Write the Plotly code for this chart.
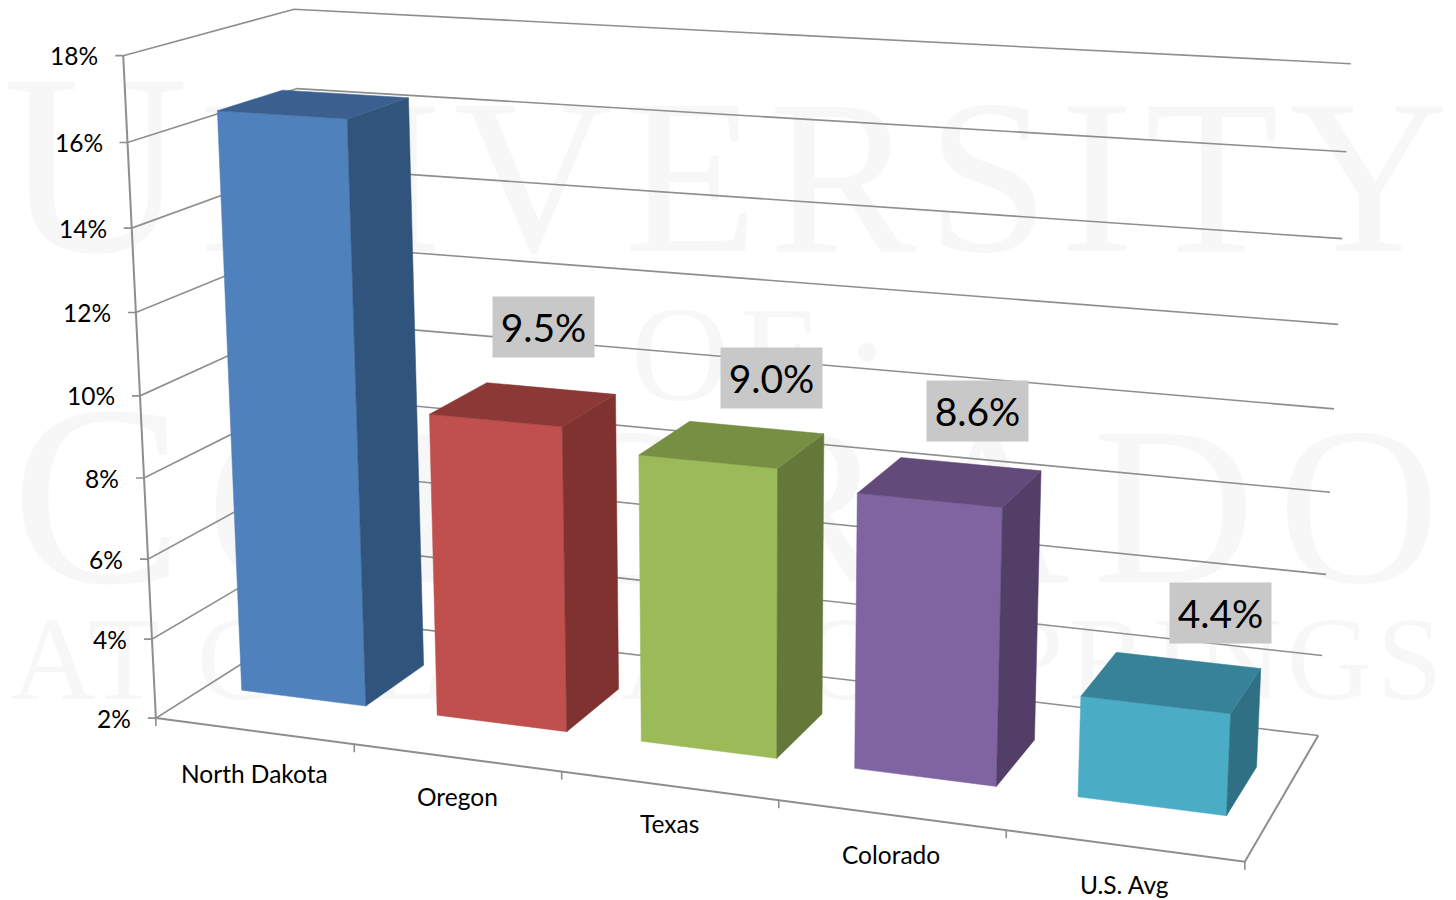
import numpy as np
import plotly.graph_objects as go

# ---- data ----
categories = ["North Dakota", "Oregon", "Texas", "Colorado", "U.S. Avg"]
values = [16.4, 9.5, 9.0, 8.6, 4.4]
value_ticks = [2, 4, 6, 8, 10, 12, 14, 16, 18]
tick_labels = ["2%", "4%", "6%", "8%", "10%", "12%", "14%", "16%", "18%"]
data_labels = ["", "9.5%", "9.0%", "8.6%", "4.4%"]

# ---- styles ----
front_colors = ["#4f81bd", "#c0504d", "#9bbb59", "#8064a2", "#4bacc6"]
side_colors = ["#31547c", "#7f3230", "#64783a", "#533e68", "#2f7085"]
top_colors = ["#3b6090", "#8c3836", "#778f43", "#624a7b", "#378299"]
GRID = "#8e8e8e"
FONT = "Lato"
WM = "#f7f7f7"

# ---- camera calibration: (across, value, depth) -> picture position of the frame ----
cal_world = []
cal_img = []
def add(u, v, d, x, y):
    cal_world.append((u, v, d)); cal_img.append((x, y))
for v, x, y in zip(value_ticks, [157, 152, 148, 144, 140, 136, 131, 127, 123],
                   [718, 638, 558, 478, 396, 312, 228, 142, 57]):
    add(0, v, 0, x, y)
for v, x, y in zip(value_ticks, [1318, 1322, 1326, 1330, 1334, 1338, 1343, 1347, 1350],
                   [735, 655, 575, 492, 408, 324, 239, 152, 64]):
    add(1, v, 1, x, y)
for u, x, y in zip([.2, .4, .6, .8, 1], [355, 561, 779, 1006, 1245], [745, 772, 801, 830, 862]):
    add(u, 2, 0, x, y)
add(0, 18, 1, 295, 9)
add(0, 2, 1, 315, 618)

A = []
for (u, v, d), (x, y) in zip(cal_world, cal_img):
    X = [u, (v - 2) / 16, d, 1]
    A.append(X + [0, 0, 0, 0] + [-x * c for c in X])
    A.append([0, 0, 0, 0] + X + [-y * c for c in X])
P = np.linalg.svd(np.array(A, float))[2][-1].reshape(3, 4)

def proj(u, v, d):
    h = P @ np.array([u, (v - 2) / 16, d, 1.0])
    return h[0] / h[2], h[1] / h[2]

def poly(points, color, name=None):
    xy = [proj(*p) for p in points]
    xy.append(xy[0])
    fig.add_trace(go.Scatter(x=[a for a, _ in xy], y=[b for _, b in xy], mode="lines",
                             fill="toself", fillcolor=color, line=dict(width=0.5, color=color),
                             hoverinfo="skip", showlegend=False))

def line(points, w=1.6):
    fig.add_trace(go.Scatter(x=[p[0] for p in points], y=[p[1] for p in points], mode="lines",
                             line=dict(color=GRID, width=w), hoverinfo="skip", showlegend=False))

fig = go.Figure()

# watermark, drawn first so that it stays behind everything
def caps(first, rest, big, small, spacing):
    return (f'<span style="font-size:{big}px;letter-spacing:{spacing}px">{first}</span>'
            f'<span style="font-size:{small}px;letter-spacing:{spacing}px">{rest}</span>')

wm_text = [caps("U", "NIVERSITY", 258, 220, 11),
           '<span style="letter-spacing:10px">OF</span>',
           caps("C", "OLORADO", 258, 224, 23),
           '<span style="letter-spacing:5px">AT COLORADO SPRINGS</span>']
wm_x = [731, 728, 737, 729]
wm_y = [196, 366, 526, 669]
wm_size = [220, 136, 224, 118]
for txt, x, y, size in zip(wm_text, wm_x, wm_y, wm_size):
    fig.add_trace(go.Scatter(x=[x], y=[y], mode="text", text=[txt], textposition="middle center",
                             textfont=dict(family="Liberation Serif", size=size, color=WM),
                             hoverinfo="skip", showlegend=False))
fig.add_trace(go.Scatter(x=[867], y=[352], mode="markers", marker=dict(size=19, color=WM),
                         hoverinfo="skip", showlegend=False))

# frame
for v in value_ticks:
    a, b, c = proj(0, v, 0), proj(0, v, 1), proj(1, v, 1)
    line([(a[0] - 8, a[1]), a, b, c])
line([proj(0, 18, 0), proj(0, 2, 0)], 2)
line([proj(0, 2, 0), proj(1, 2, 0), proj(1, 2, 1)], 2)
for i in range(6):
    p = proj(i / 5, 2, 0)
    line([p, (p[0], p[1] + 8)], 1.6)

# bars
HALF_L, HALF_R = 0.0635, 0.0645
D1, D2 = 0.30, 0.69
for i, val in enumerate(values):
    c = (i + 0.5) / 5
    u1, u2 = c - HALF_L, c + HALF_R
    poly([(u1, 2, D1), (u2, 2, D1), (u2, val, D1), (u1, val, D1)], front_colors[i])
    poly([(u2, 2, D1), (u2, 2, D2), (u2, val, D2), (u2, val, D1)], side_colors[i])
    poly([(u1, val, D1), (u2, val, D1), (u2, val, D2), (u1, val, D2)], top_colors[i])

ann = []
# value axis labels
for lab, v in zip(tick_labels, value_ticks):
    p = proj(0, v, 0)
    ann.append(dict(x=p[0] - 23, y=p[1], text=lab, showarrow=False, xanchor="right", yanchor="middle",
                    font=dict(family=FONT, size=24.5, color="#000")))
# category labels
cat_x = [254, 457, 669, 891, 1124]
cat_y = [773, 796, 823, 854, 884]
for lab, x, y in zip(categories, cat_x, cat_y):
    ann.append(dict(x=x, y=y, text=lab, showarrow=False, xanchor="center", yanchor="middle",
                    font=dict(family=FONT, size=24.5, color="#000")))
# data labels
lab_x = [0, 543, 771, 977, 1220]
lab_y = [0, 327, 378, 411, 613]
for lab, x, y in zip(data_labels, lab_x, lab_y):
    if lab:
        ann.append(dict(x=x, y=y, text=lab, showarrow=False, xanchor="center", yanchor="middle",
                        width=101, height=60, bgcolor="#c8c8c8", borderpad=0,
                        font=dict(family=FONT, size=39, color="#000")))

fig.update_layout(width=1456, height=900, margin=dict(l=0, r=0, t=0, b=0),
                  paper_bgcolor="white", plot_bgcolor="white", annotations=ann,
                  xaxis=dict(range=[0, 1456], visible=False, fixedrange=True),
                  yaxis=dict(range=[900, 0], visible=False, fixedrange=True),
                  showlegend=False)
fig.write_html("out.html", config=dict(displayModeBar=False),
               post_script="document.body.style.margin='0';document.documentElement.style.overflow='hidden';")
